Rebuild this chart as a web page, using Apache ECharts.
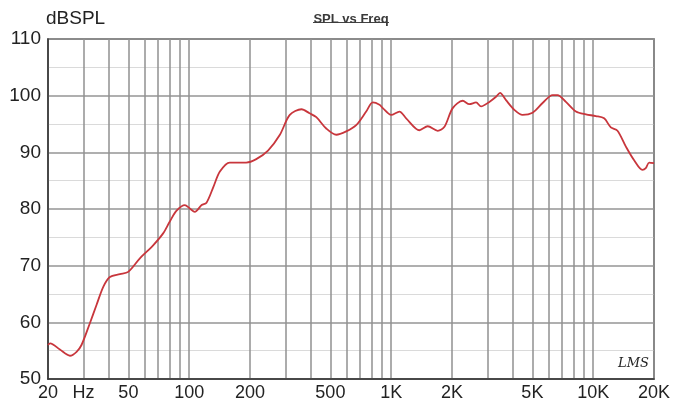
<!DOCTYPE html>
<html>
<head>
<meta charset="utf-8">
<script src="https://cdn.jsdelivr.net/npm/echarts@6/dist/echarts.min.js"></script>
<style>
html,body{margin:0;padding:0;background:#fff;}
#c{width:673px;height:405px;}
</style>
</head>
<body>
<div id="c"></div>
<script>
// Frequency (Hz) and SPL (dB)
const freq = [20, 20.5, 22.9, 25.7, 27.7, 29.3, 32.2, 34.8, 37.6, 40.5, 45.4, 49.9, 57, 66.3, 74.3, 80.2, 86.6, 95.2, 100.7, 106.6,
  115.3, 121.8, 131.8, 141.9, 158.7, 191.5, 214.8, 245.6, 281.2, 314.8, 359.7, 394, 426, 477, 535, 599, 671, 752, 811, 875,
  909, 1000, 1099, 1186, 1380, 1517, 1700, 1835, 2016, 2260, 2438, 2631, 2786, 3062, 3304, 3458, 3702, 4070, 4470, 5012,
  5617, 6292, 6660, 7328, 8216, 9204, 10310, 11330, 12230, 13190, 14520, 15950, 17530, 18210, 18920, 20000];
const spl = [56.0, 56.3, 55.2, 54.1, 54.8, 56.0, 59.8, 63.1, 66.3, 68.0, 68.5, 68.9, 71.3, 73.6, 75.7, 77.8, 79.7, 80.7, 80.1, 79.5,
  80.7, 81.1, 83.9, 86.6, 88.2, 88.2, 88.8, 90.3, 93.1, 96.6, 97.6, 96.9, 96.2, 94.2, 93.1, 93.7, 94.8, 97.2, 98.8, 98.4,
  97.8, 96.6, 97.2, 96.0, 93.9, 94.6, 93.8, 94.5, 97.8, 99.1, 98.5, 98.8, 98.1, 98.9, 99.8, 100.5, 99.2, 97.5, 96.6, 97.0,
  98.7, 100.1, 100.1, 98.9, 97.2, 96.7, 96.4, 96.0, 94.4, 93.8, 91.0, 88.6, 86.9, 87.2, 88.2, 88.1];

// Axis ticks
const gridFreqs = [20, 30, 40, 50, 60, 70, 80, 90, 100, 200, 300, 400, 500, 600, 700, 800, 900, 1000,
  2000, 3000, 4000, 5000, 6000, 7000, 8000, 9000, 10000, 20000];
const labelFreqs = [20, 30, 50, 100, 200, 500, 1000, 2000, 5000, 10000, 20000];
const labelTexts = ['20', 'Hz', '50', '100', '200', '500', '1K', '2K', '5K', '10K', '20K'];
const yTicks = [50, 60, 70, 80, 90, 100, 110];

const chart = echarts.init(document.getElementById('c'), null, {renderer: 'canvas'});
const font = 'Liberation Sans, Arial, Helvetica, sans-serif';

chart.setOption({
  animation: false,
  backgroundColor: '#fff',
  title: {
    text: 'SPL vs Freq',
    left: 346, top: 8, textAlign: 'center',
    textStyle: {fontFamily: font, fontSize: 13, fontWeight: 'bold', color: '#3a3a3a'}
  },
  grid: {
    left: 48, right: 18, top: 39, bottom: 26,
    show: true, borderColor: '#444', borderWidth: 1.5, backgroundColor: 'transparent'
  },
  xAxis: {
    type: 'log', logBase: 10, min: 20, max: 20000,
    axisLine: {show: true, lineStyle: {color: '#333', width: 1.5}},
    axisTick: {show: false, customValues: gridFreqs},
    axisLabel: {
      customValues: labelFreqs,
      fontFamily: font, fontSize: 18, color: '#222', margin: 5,
      formatter: function (v) {
        const i = labelFreqs.findIndex(f => Math.abs(f - v) / f < 0.01);
        return i >= 0 ? labelTexts[i] : '';
      }
    },
    splitLine: {show: true, lineStyle: {color: '#909090', width: 1.5}},
    minorSplitLine: {show: false}
  },
  yAxis: {
    type: 'value', min: yTicks[0], max: yTicks[yTicks.length - 1], interval: 10,
    axisLine: {show: true, lineStyle: {color: '#333', width: 1.5}},
    axisTick: {show: false},
    axisLabel: {fontFamily: font, fontSize: 19, color: '#222', margin: 7},
    splitLine: {show: true, lineStyle: {color: '#959595', width: 1.5}},
    minorTick: {show: false, splitNumber: 2},
    minorSplitLine: {show: true, lineStyle: {color: '#dadada', width: 1}}
  },
  graphic: [
    {type: 'text', left: 46, top: 9, style: {text: 'dBSPL', font: '19px ' + font, fill: '#222'}},
    {type: 'line', shape: {x1: 313, y1: 22.5, x2: 389, y2: 22.5}, style: {stroke: '#444', lineWidth: 1}},
    {type: 'text', left: 618, top: 357, style: {text: 'LMS', font: 'italic 13px DejaVu Serif, serif', fill: '#222'}}
  ],
  series: [{
    type: 'line',
    data: freq.map((f, i) => [f, spl[i]]),
    showSymbol: false,
    smooth: 0.3,
    lineStyle: {color: '#c8363c', width: 1.8},
    z: 5
  }]
});
</script>
</body>
</html>
